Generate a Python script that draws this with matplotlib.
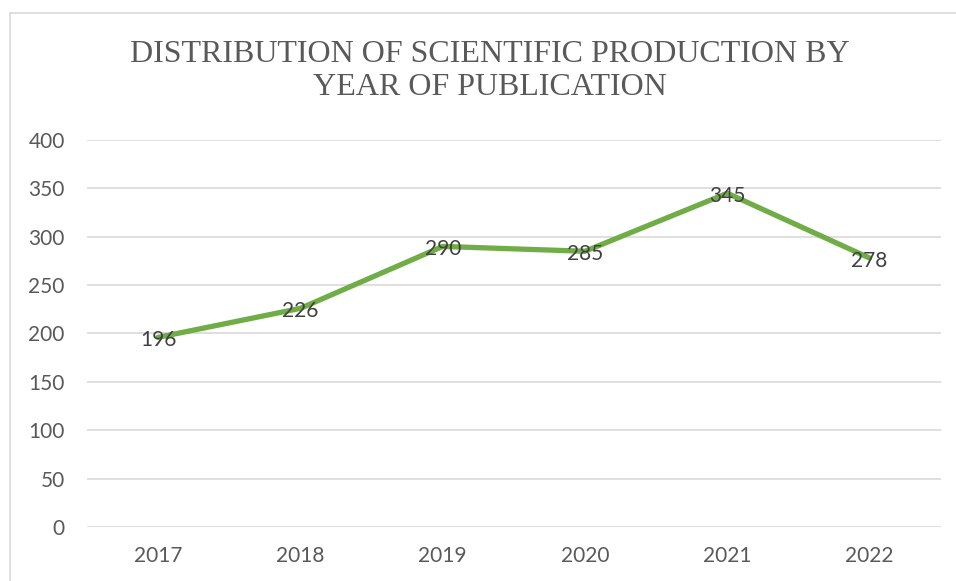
import matplotlib.pyplot as plt
from matplotlib.patches import Rectangle

# Data
years = ['2017', '2018', '2019', '2020', '2021', '2022']
counts = [196, 226, 290, 285, 345, 278]
y_ticks = [0, 50, 100, 150, 200, 250, 300, 350, 400]

fig = plt.figure(figsize=(9.56, 5.81), dpi=100)
ax = fig.add_axes([0.091, 0.093, 0.893, 0.666])

# Chart border (cropped at right/bottom in the original)
fig.patches.append(Rectangle((10 / 956, -0.01), 1.0, 1 - 13 / 581 + 0.01,
                             transform=fig.transFigure, fill=False,
                             edgecolor='#d9d9d9', linewidth=1.2))

x = range(len(years))
ax.plot(x, counts, color='#70ad47', linewidth=3.8, solid_joinstyle='round',
        solid_capstyle='round', zorder=3)

for i, v in zip(x, counts):
    ax.annotate(str(v), (i, v), xytext=(0, -2), textcoords='offset points',
                ha='center', va='center', fontsize=15, family='Lato',
                color='#404040', zorder=4)

ax.set_xlim(-0.5, len(years) - 0.5)
ax.set_ylim(0, 400)
ax.set_yticks(y_ticks)
ax.set_xticks(list(x))
ax.set_xticklabels(years)
ax.grid(axis='y', color='#d9d9d9', linewidth=1.2)
ax.set_axisbelow(True)
for s in ax.spines.values():
    s.set_visible(False)
ax.tick_params(length=0, labelsize=15, labelcolor='#595959')
ax.tick_params(axis='y', pad=16)
ax.tick_params(axis='x', pad=14)
for lbl in ax.get_xticklabels() + ax.get_yticklabels():
    lbl.set_family('Lato')

fig.text(490 / 956, 1 - 71 / 581,
         'DISTRIBUTION OF SCIENTIFIC PRODUCTION BY\nYEAR OF PUBLICATION',
         ha='center', va='center', fontsize=23, family='Liberation Serif',
         color='#595959', linespacing=1.2)

fig.savefig('out.png', dpi=100)
